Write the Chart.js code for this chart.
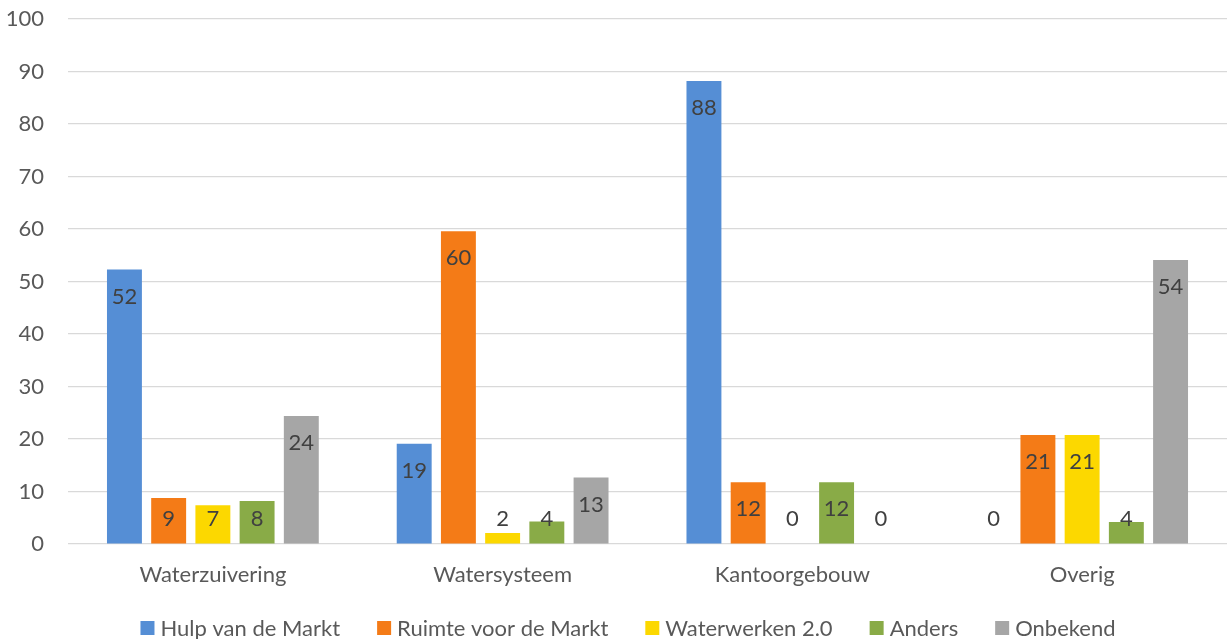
<!DOCTYPE html>
<html lang="nl">
<head>
  <meta charset="UTF-8" />
  <title>Projecten per categorie</title>
  <script src="https://cdn.jsdelivr.net/npm/chart.js"></script>
  <style>
    body {
      margin: 0;
      background-color: #ffffff;
    }
    #chart {
      display: block;
    }
  </style>
</head>
<body>
<canvas id="chart" width="1228" height="639"></canvas>

<script>
  // data
  const categories = ['Waterzuivering', 'Watersysteem', 'Kantoorgebouw', 'Overig'];
  const seriesNames = ['Hulp van de Markt', 'Ruimte voor de Markt', 'Waterwerken 2.0', 'Anders', 'Onbekend'];
  const hulpVanDeMarkt = [52.3, 19.1, 88.2, 0];
  const ruimteVoorDeMarkt = [8.8, 59.6, 11.8, 20.8];
  const waterwerken = [7.4, 2.1, 0, 20.8];
  const anders = [8.2, 4.3, 11.8, 4.2];
  const onbekend = [24.4, 12.7, 0, 54.1];
  const yTicks = [0, 10, 20, 30, 40, 50, 60, 70, 80, 90, 100];

  const colors = ['#558ed5', '#f47b17', '#fcd800', '#89ab47', '#a6a6a6'];
  const values = [hulpVanDeMarkt, ruimteVoorDeMarkt, waterwerken, anders, onbekend];

  const fontFamily = 'Lato, "Open Sans", sans-serif';
  const fontSize = 22;

  // value labels at the inside end of each bar
  const barLabels = {
    id: 'barLabels',
    afterDatasetsDraw(chart) {
      const ctx = chart.ctx;
      ctx.save();
      ctx.font = fontSize + 'px ' + fontFamily;
      ctx.fillStyle = '#404040';
      ctx.textAlign = 'center';
      ctx.textBaseline = 'middle';
      chart.data.datasets.forEach((ds, i) => {
        chart.getDatasetMeta(i).data.forEach((bar, j) => {
          const y = Math.min(bar.y + 27, bar.base - 25);
          ctx.fillText(String(Math.round(ds.data[j])), bar.x, y);
        });
      });
      ctx.restore();
    }
  };

  // legend row at the bottom, square markers
  const bottomLegend = {
    id: 'bottomLegend',
    afterDraw(chart) {
      const ctx = chart.ctx;
      const box = 14, textGap = 6, itemGap = 37;
      const centerX = 628, centerY = 628;
      ctx.save();
      ctx.font = fontSize + 'px ' + fontFamily;
      ctx.textBaseline = 'middle';
      ctx.textAlign = 'left';
      const items = chart.data.datasets.map(ds => ({
        label: ds.label,
        color: ds.backgroundColor,
        width: box + textGap + ctx.measureText(ds.label).width
      }));
      const total = items.reduce((s, it) => s + it.width, 0) + itemGap * (items.length - 1);
      let x = centerX - total / 2;
      items.forEach(it => {
        ctx.fillStyle = it.color;
        ctx.fillRect(x, centerY - box / 2, box, box);
        ctx.fillStyle = '#595959';
        ctx.fillText(it.label, x + box + textGap, centerY + 1);
        x += it.width + itemGap;
      });
      ctx.restore();
    }
  };

  new Chart(document.getElementById('chart'), {
    type: 'bar',
    data: {
      labels: categories,
      datasets: seriesNames.map((name, i) => ({
        label: name,
        data: values[i],
        backgroundColor: colors[i],
        categoryPercentage: 0.763,
        barPercentage: 0.79
      }))
    },
    options: {
      responsive: false,
      animation: false,
      layout: {
        padding: { top: 19, right: 1, bottom: 32.5, left: 0 }
      },
      plugins: {
        legend: { display: false },
        tooltip: { enabled: false }
      },
      scales: {
        x: {
          grid: { display: false, drawTicks: false },
          border: { display: false },
          ticks: {
            color: '#595959',
            font: { family: fontFamily, size: fontSize },
            padding: 18,
            maxRotation: 0
          },
          afterFit(scale) {
            scale.paddingLeft = 0;
            scale.paddingRight = 0;
          }
        },
        y: {
          min: 0,
          max: 100,
          afterBuildTicks(scale) {
            scale.ticks = yTicks.map(v => ({ value: v }));
          },
          grid: {
            color: '#d9d9d9',
            lineWidth: 1.3,
            drawTicks: false
          },
          border: { display: false },
          ticks: {
            color: '#595959',
            font: { family: fontFamily, size: fontSize },
            padding: 24
          },
          afterFit(scale) {
            scale.width = 68;
            scale.paddingTop = 0;
            scale.paddingBottom = 0;
          }
        }
      }
    },
    plugins: [barLabels, bottomLegend]
  });
</script>
</body>
</html>
